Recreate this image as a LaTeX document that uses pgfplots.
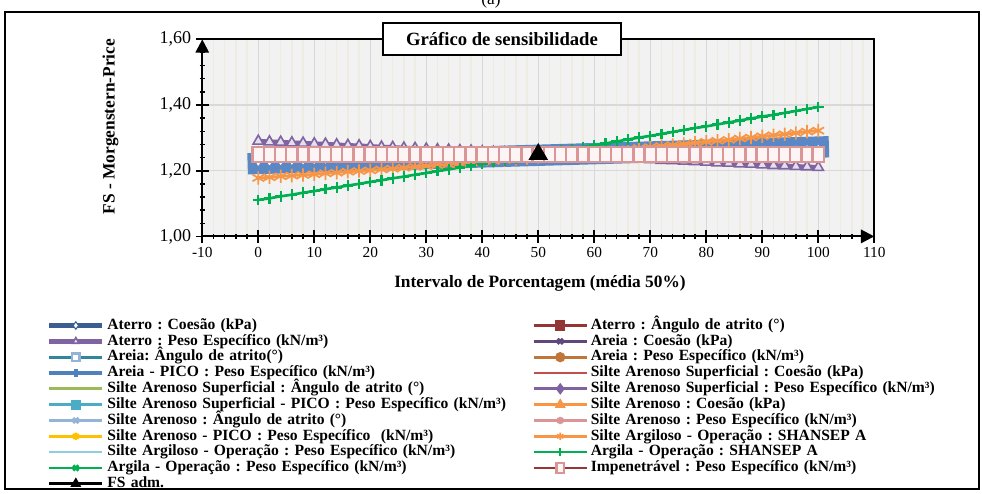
\documentclass[border=0pt]{standalone}
\usepackage{fontspec}
\setmainfont{Liberation Serif}
\usepackage{pgfplots}
\usepackage{pgfplotstable}
\pgfplotsset{compat=1.18}
\usetikzlibrary{arrows.meta}
\frenchspacing

\definecolor{cAtCoe}{HTML}{3B5E91}
\definecolor{cAtAng}{HTML}{943634}
\definecolor{cAtPes}{HTML}{8064A2}
\definecolor{cAtPesF}{HTML}{E5E0EC}
\definecolor{cArCoe}{HTML}{60497A}
\definecolor{cArAng}{HTML}{31859C}
\definecolor{cArPes}{HTML}{C0763A}
\definecolor{cArPico}{HTML}{4F81BD}
\definecolor{cSASCoe}{HTML}{C0504D}
\definecolor{cSASAng}{HTML}{9BBB59}
\definecolor{cSASPes}{HTML}{7F63A1}
\definecolor{cSASPico}{HTML}{4BACC6}
\definecolor{cSACoe}{HTML}{F79646}
\definecolor{cSAAng}{HTML}{95B3D7}
\definecolor{cSAPes}{HTML}{D99694}
\definecolor{cSAPico}{HTML}{FFC000}
\definecolor{cSArgSh}{HTML}{F79646}
\definecolor{cSArgPes}{HTML}{93CDDD}
\definecolor{cArg}{HTML}{00B050}
\definecolor{cImp}{HTML}{943634}
\definecolor{cImpMk}{HTML}{D99694}
\definecolor{cImpF}{HTML}{FDF5F5}
\definecolor{cBand}{HTML}{5A88C6}
\definecolor{plotbg}{HTML}{F2F2F2}
\definecolor{gridgray}{HTML}{D9D9D9}
\definecolor{gridbeige}{HTML}{EEECE1}

% x, Aterro coesao, Aterro peso, Silte Argiloso SHANSEP, Argila SHANSEP, Impenetravel
\pgfplotstableread{
x   aco   ape   sarg  arg   imp
0   1.222 1.290 1.178 1.111 1.25
2   1.223 1.288 1.180 1.116 1.25
4   1.224 1.287 1.183 1.122 1.25
6   1.225 1.285 1.185 1.127 1.25
8   1.226 1.284 1.187 1.133 1.25
10  1.227 1.282 1.189 1.138 1.25
12  1.228 1.281 1.192 1.144 1.25
14  1.229 1.279 1.194 1.149 1.25
16  1.230 1.277 1.197 1.155 1.25
18  1.231 1.276 1.199 1.160 1.25
20  1.232 1.274 1.201 1.166 1.25
22  1.233 1.272 1.204 1.171 1.25
24  1.234 1.271 1.206 1.177 1.25
26  1.235 1.269 1.209 1.182 1.25
28  1.236 1.268 1.212 1.188 1.25
30  1.237 1.266 1.214 1.193 1.25
32  1.238 1.264 1.217 1.199 1.25
34  1.239 1.263 1.219 1.204 1.25
36  1.240 1.261 1.222 1.210 1.25
38  1.241 1.260 1.225 1.216 1.25
40  1.242 1.258 1.227 1.221 1.25
42  1.243 1.256 1.230 1.227 1.25
44  1.244 1.255 1.233 1.232 1.25
46  1.245 1.253 1.236 1.238 1.25
48  1.246 1.252 1.239 1.244 1.25
50  1.247 1.250 1.242 1.249 1.25
52  1.248 1.248 1.244 1.255 1.25
54  1.249 1.247 1.247 1.261 1.25
56  1.250 1.245 1.250 1.266 1.25
58  1.251 1.244 1.253 1.272 1.25
60  1.252 1.242 1.256 1.278 1.25
62  1.253 1.240 1.259 1.283 1.25
64  1.254 1.239 1.262 1.289 1.25
66  1.255 1.237 1.265 1.295 1.25
68  1.256 1.236 1.269 1.301 1.25
70  1.257 1.234 1.272 1.306 1.25
72  1.258 1.232 1.275 1.312 1.25
74  1.259 1.231 1.278 1.318 1.25
76  1.260 1.229 1.281 1.324 1.25
78  1.261 1.228 1.285 1.330 1.25
80  1.262 1.226 1.288 1.335 1.25
82  1.263 1.224 1.291 1.341 1.25
84  1.264 1.223 1.294 1.347 1.25
86  1.265 1.221 1.298 1.353 1.25
88  1.266 1.220 1.301 1.359 1.25
90  1.267 1.218 1.305 1.365 1.25
92  1.268 1.216 1.308 1.370 1.25
94  1.269 1.215 1.311 1.376 1.25
96  1.270 1.213 1.315 1.382 1.25
98  1.271 1.212 1.319 1.388 1.25
100 1.272 1.210 1.322 1.394 1.25
}\main

\begin{document}
\begin{tikzpicture}
\begin{axis}[
    at={(0pt,0pt)}, anchor=south west,
    scale only axis, width=504pt, height=147.8pt,
    xmin=-10, xmax=110, ymin=1, ymax=1.6,
    xtick={-10,0,...,110}, ytick={1,1.2,1.4,1.6},
    minor x tick num=4, minor y tick num=4,
    axis lines=left,
    axis line style={line width=1.6pt, black},
    x axis line style={-{Triangle[length=10pt,width=10pt]}},
    y axis line style={-{Triangle[length=10pt,width=10pt]}},
    tick align=center,
    major tick length=9.5pt, minor tick length=4pt,
    major tick style={black, line width=1.3pt},
    minor tick style={black, line width=1.1pt},
    axis background/.style={fill=plotbg},
    xmajorgrids, xminorgrids, ymajorgrids,
    major grid style={draw=gridgray, line width=1.1pt},
    minor grid style={draw=gridbeige, line width=1.1pt},
    clip=false,
    /pgf/number format/assume math mode=true,
    xticklabel style={font=\fontsize{11.5}{13}\selectfont,
        /pgf/number format/.cd, fixed, precision=0},
    yticklabel style={font=\fontsize{13.5}{15}\selectfont,
        /pgf/number format/.cd, fixed, fixed zerofill, precision=2, use comma},
    every axis title shift=0pt,
    title={Gráfico de sensibilidade},
    title style={at={(axis description cs:0.446,1.0015)}, anchor=center,
        draw=black, line width=1.5pt, fill=white, minimum width=178.5pt,
        minimum height=24pt, inner sep=0pt, font=\bfseries\fontsize{14}{16}\selectfont},
    xlabel={Intervalo de Porcentagem (média 50\%)},
    xlabel style={at={(axis description cs:0.5025,-0.2364)}, anchor=center,
        font=\bfseries\fontsize{13}{15}\selectfont},
    ylabel={FS - Morgenstern-Price},
    ylabel style={at={(axis description cs:-0.1366,0.5576)}, anchor=center,
        font=\bfseries\fontsize{13}{15}\selectfont},
    legend columns=2,
    legend cell align=left,
    legend style={at={(axis description cs:-0.2311,-0.414)}, anchor=north west,
        draw=none, fill=none, inner sep=0pt, outer sep=0pt, row sep=0.57pt,
        font=\bfseries\fontsize{11.7}{13}\selectfont,
        nodes={inner sep=0pt, text height=8.5pt, text depth=2.8pt, text width=299.25pt, align=left},
        /tikz/every even column/.append style={column sep=19.5pt},
        /tikz/every odd column/.append style={column sep=2pt}},
    legend image code/.code={\draw[mark repeat=2,mark phase=2,#1]
        plot coordinates {(0pt,0pt) (19.9pt,0pt) (39.8pt,0pt)};},
    legend image post style={mark size=2.8pt},
]

% broad band behind the cluster of nearly constant series
\addplot[forget plot, cBand, line width=16pt, line cap=rect] table[x=x, y=aco] {\main};

\addplot[forget plot, cBand, line width=2pt, mark=diamond*, mark size=2.5pt,
    mark options={fill=white, draw=cBand, line width=0.8pt}] table[x=x, y=aco] {\main};
\addlegendimage{cAtCoe, line width=3.5pt, mark=diamond*,
    mark options={fill=white, draw=cAtCoe, line width=0.8pt}}
\addlegendentry{Aterro : Coesão (kPa)}
\addplot[cAtAng, line width=2pt, mark=square*, mark size=2.5pt] coordinates {
    (0,1.238) (10,1.241) (20,1.243) (30,1.246) (40,1.248) (50,1.250)
    (60,1.252) (70,1.255) (80,1.257) (90,1.259) (100,1.262)};
\addlegendentry{Aterro : Ângulo de atrito (°)}
\addplot[cAtPes, line width=3.5pt, mark=triangle*, mark size=4.5pt,
    mark options={fill=cAtPesF, draw=cAtPes, line width=1.2pt}] table[x=x, y=ape] {\main};
\addlegendentry{Aterro : Peso Específico (kN/m³)}
\addplot[cArCoe, line width=2pt, mark=x, mark size=2.5pt] coordinates {
    (0,1.248) (10,1.248) (20,1.249) (30,1.249) (40,1.250) (50,1.250)
    (60,1.250) (70,1.251) (80,1.251) (90,1.252) (100,1.252)};
\addlegendentry{Areia : Coesão (kPa)}
\addplot[cArAng, line width=2pt, mark=square*, mark size=2.5pt,
    mark options={fill=white, draw=cSAAng}] coordinates {
    (0,1.244) (10,1.245) (20,1.246) (30,1.247) (40,1.249) (50,1.250)
    (60,1.251) (70,1.252) (80,1.253) (90,1.255) (100,1.256)};
\addlegendentry{Areia: Ângulo de atrito(°)}
\addplot[cArPes, line width=2pt, mark=*, mark size=2.5pt] coordinates {
    (0,1.253) (10,1.252) (20,1.252) (30,1.251) (40,1.251) (50,1.250)
    (60,1.249) (70,1.249) (80,1.248) (90,1.248) (100,1.247)};
\addlegendentry{Areia : Peso Específico (kN/m³)}
\addplot[cArPico, line width=2.5pt, mark=|, mark size=2.5pt] coordinates {
    (0,1.246) (10,1.247) (20,1.248) (30,1.248) (40,1.249) (50,1.250)
    (60,1.251) (70,1.252) (80,1.252) (90,1.253) (100,1.254)};
\addlegendentry{Areia - PICO : Peso Específico (kN/m³)}
\addplot[cSASCoe, line width=2pt, mark=-, mark size=2.5pt] coordinates {
    (0,1.247) (10,1.248) (20,1.248) (30,1.249) (40,1.249) (50,1.250)
    (60,1.251) (70,1.251) (80,1.252) (90,1.252) (100,1.253)};
\addlegendentry{Silte Arenoso Superficial : Coesão (kPa)}
\addplot[cSASAng, line width=2pt] coordinates {
    (0,1.243) (10,1.244) (20,1.246) (30,1.247) (40,1.249) (50,1.250)
    (60,1.251) (70,1.253) (80,1.254) (90,1.256) (100,1.257)};
\addlegendentry{Silte Arenoso Superficial : Ângulo de atrito (°)}
\addplot[cSASPes, line width=2pt, mark=diamond*, mark size=2.5pt] coordinates {
    (0,1.254) (10,1.253) (20,1.253) (30,1.252) (40,1.251) (50,1.250)
    (60,1.249) (70,1.248) (80,1.247) (90,1.247) (100,1.246)};
\addlegendentry{Silte Arenoso Superficial : Peso Específico (kN/m³)}
\addplot[cSASPico, line width=2pt, mark=square*, mark size=2.8pt] coordinates {
    (0,1.249) (10,1.249) (20,1.249) (30,1.250) (40,1.250) (50,1.250)
    (60,1.250) (70,1.250) (80,1.251) (90,1.251) (100,1.251)};
\addlegendentry{Silte Arenoso Superficial - PICO : Peso Específico (kN/m³)}
\addplot[cSACoe, line width=2pt, mark=triangle*, mark size=2.5pt] coordinates {
    (0,1.245) (10,1.246) (20,1.247) (30,1.248) (40,1.249) (50,1.250)
    (60,1.251) (70,1.252) (80,1.253) (90,1.254) (100,1.255)};
\addlegendentry{Silte Arenoso : Coesão (kPa)}
\addplot[cSAAng, line width=2pt, mark=x, mark size=2.5pt] coordinates {
    (0,1.244) (10,1.245) (20,1.246) (30,1.248) (40,1.249) (50,1.250)
    (60,1.251) (70,1.252) (80,1.254) (90,1.255) (100,1.256)};
\addlegendentry{Silte Arenoso : Ângulo de atrito (°)}
\addplot[cSAPes, line width=2pt, mark=asterisk, mark size=2.5pt] coordinates {
    (0,1.252) (10,1.252) (20,1.251) (30,1.251) (40,1.250) (50,1.250)
    (60,1.250) (70,1.249) (80,1.249) (90,1.248) (100,1.248)};
\addlegendentry{Silte Arenoso : Peso Específico (kN/m³)}
\addplot[cSAPico, line width=2pt, mark=asterisk, mark size=2.5pt] coordinates {
    (0,1.251) (10,1.251) (20,1.250) (30,1.250) (40,1.250) (50,1.250)
    (60,1.250) (70,1.250) (80,1.250) (90,1.249) (100,1.249)};
\addlegendentry{Silte Arenoso - PICO : Peso Específico \ (kN/m³)}
\addplot[cSArgSh, line width=2pt, mark=asterisk, mark size=5pt,
    mark options={line width=1.3pt}] table[x=x, y=sarg] {\main};
\addlegendentry{Silte Argiloso - Operação : SHANSEP A}
\addplot[cSArgPes, line width=2pt, mark=-, mark size=2.5pt] coordinates {
    (0,1.253) (10,1.252) (20,1.252) (30,1.251) (40,1.251) (50,1.250)
    (60,1.249) (70,1.249) (80,1.248) (90,1.248) (100,1.247)};
\addlegendentry{Silte Argiloso - Operação : Peso Específico (kN/m³)}
\addplot[cArg, line width=2pt, mark=+, mark size=4pt,
    mark options={line width=1.6pt}] table[x=x, y=arg] {\main};
\addlegendentry{Argila - Operação : SHANSEP A}
\addplot[cArg, line width=2pt, mark=x, mark size=2.5pt] coordinates {
    (0,1.256) (10,1.254) (20,1.253) (30,1.252) (40,1.251) (50,1.250)
    (60,1.249) (70,1.248) (80,1.247) (90,1.246) (100,1.244)};
\addlegendentry{Argila - Operação : Peso Específico (kN/m³)}
\addplot[cImp, line width=2pt, mark=square*, mark size=4.3pt,
    mark options={fill=cImpF, draw=cImpMk, line width=1.8pt, yscale=1.3}] table[x=x, y=imp] {\main};
\addlegendentry{Impenetrável : Peso Específico (kN/m³)}
\addplot[black, line width=2pt, mark=triangle*, mark size=6.5pt] coordinates {(50,1.25)};
\addlegendentry{FS adm.}

% top and right edges of the plot frame
\draw[black, line width=1.6pt] (rel axis cs:0,1) -- (rel axis cs:1,1) -- (rel axis cs:1,0);
\end{axis}

\node[font=\fontsize{13}{15}\selectfont] at (216.5pt,177.3pt) {(a)};
\draw[black, line width=1.5pt] (-148.3pt,-189.3pt) rectangle (582.2pt,168.1pt);
\pgfresetboundingbox
\useasboundingbox (-151.7pt,-192.5pt) rectangle (584.8pt,177.3pt);
\end{tikzpicture}
\end{document}
